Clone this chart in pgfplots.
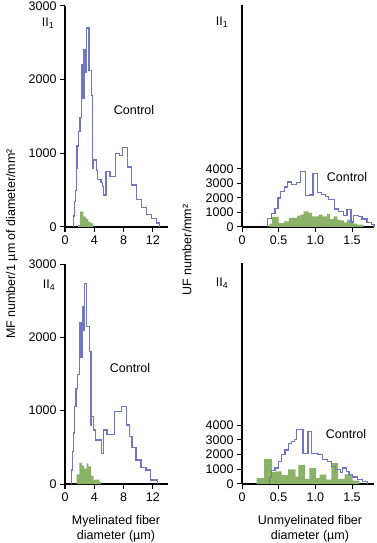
\documentclass[border=0pt]{standalone}
\usepackage{fontspec}
\setmainfont{Liberation Sans}
\usepackage{pgfplots}
\pgfplotsset{compat=1.18}
\definecolor{ublue}{RGB}{112,118,196}
\definecolor{ugreen}{RGB}{138,178,104}
\pgfplotsset{
  hist/.style={
    scale only axis,
    axis lines=left,
    axis line style={-, line width=1.1pt, black},
    tick align=outside,
    major tick length=5pt,
    tick style={line width=1pt, black},
    ticklabel style={font=\fontsize{12.5}{14}\selectfont},
    /pgf/number format/assume math mode=true,
    /pgf/number format/1000 sep={},
    scaled ticks=false,
    clip=false,
    anchor=south west,
  },
  bl/.style={ublue, line width=1.2pt, const plot mark left, mark=none},
  gr/.style={fill=ugreen, draw=none, const plot mark left, mark=none},
}
\begin{document}
\begin{tikzpicture}[font=\fontsize{12.5}{14.5}\selectfont]
\path[use as bounding box] (0,0) rectangle (376pt,543pt);

% ---------- top left ----------
\begin{axis}[hist, at={(65pt,316pt)}, width=102.6pt, height=221pt,
  xmin=0, xmax=14, ymin=0, ymax=3000,
  xtick={0,4,8,12}, ytick={0,1000,2000,3000}]
\addplot[gr] coordinates {(1.8,0)(1.8,30)(2.05,210)(2.5,140)(2.86,110)(3.18,70)(3.5,50)(3.86,0)} \closedcycle;
\addplot[bl] coordinates {(1.2,0)(1.2,150)(1.35,350)(1.45,500)(1.55,800)(1.65,1100)(1.8,1300)(2.05,1490)
 (2.27,2200)(2.31,1750)(2.35,2200)(2.39,1750)(2.43,2200)(2.47,1750)(2.51,2200)(2.55,1750)
 (2.59,2410)(2.63,2100)(2.67,2410)(2.71,2100)(2.75,2410)(2.79,2100)(2.83,2410)(2.87,2100)(2.91,2410)
 (2.96,2700)(3.27,2120)(3.64,1790)(3.77,800)(3.85,910)(4.3,770)(4.45,640)(4.9,600)(5.1,550)(5.25,435)
 (5.6,750)(6.14,690)(6.9,1000)(7.45,975)(7.9,1080)(8.5,815)(9.1,570)(9.8,370)(10.45,260)(11.1,165)
 (11.8,110)(12.5,55)(12.9,0)};
\end{axis}

% ---------- bottom left ----------
\begin{axis}[hist, at={(65pt,59pt)}, width=102.6pt, height=220pt,
  xmin=0, xmax=14, ymin=0, ymax=3000,
  xtick={0,4,8,12}, ytick={0,1000,2000,3000}]
\addplot[gr] coordinates {(1.6,0)(1.6,130)(1.95,290)(2.3,250)(2.6,210)(2.95,280)(3.2,240)(3.55,110)(3.9,55)(4.2,60)(4.7,30)(4.9,0)} \closedcycle;
\addplot[bl] coordinates {(0.91,0)(0.91,190)(1.05,440)(1.2,695)(1.35,1055)(1.5,1300)(1.74,1490)
 (1.96,2200)(2.0,1730)(2.04,2200)(2.08,1730)(2.12,2200)(2.16,1730)(2.2,2200)(2.24,1730)(2.28,2200)(2.32,1730)(2.36,2200)
 (2.41,2420)(2.45,2100)(2.49,2420)(2.53,2100)(2.57,2420)(2.61,2100)
 (2.64,2730)(2.95,2146)(3.32,1805)(3.55,805)(3.62,918)(3.91,737)(4.14,600)(4.96,420)(5.28,737)(5.74,680)
 (6.7,986)(7.67,1055)(8.35,805)(8.75,645)(9.15,500)(9.7,327)(10.37,230)(11.05,190)(11.7,55)(12.6,0)};
\end{axis}

% ---------- top right ----------
\begin{axis}[hist, at={(242pt,316pt)}, width=132pt, height=222pt,
  xmin=0, xmax=1.8, ymin=0, ymax=15300,
  xtick={0,0.5,1.0,1.5}, xticklabels={0,0.5,1.0,1.5}, ytick={0,1000,2000,3000,4000}]
\addplot[gr] coordinates {(0.377,0)(0.377,230)(0.41,690)(0.5,275)(0.57,390)(0.64,620)(0.75,780)(0.795,850)(0.84,1080)
 (0.91,965)(0.955,735)(1.045,850)(1.1,735)(1.16,900)(1.2,550)(1.25,735)(1.3,505)(1.34,460)(1.39,320)(1.43,505)
 (1.48,320)(1.52,230)(1.57,160)(1.66,0)} \closedcycle;
\addplot[bl] coordinates {(0.35,0)(0.35,600)(0.40,950)(0.45,1250)(0.49,2000)(0.53,2450)(0.58,2750)(0.62,3100)(0.68,2950)
 (0.74,3050)(0.795,3850)(0.864,2150)(0.92,2200)(0.968,3700)(1.032,2350)(1.082,2230)(1.137,2115)(1.182,1885)
 (1.26,1240)(1.32,1080)(1.387,800)(1.432,1200)(1.487,350)(1.52,800)(1.59,700)(1.637,550)(1.705,320)(1.77,150)(1.8,0)};
\end{axis}

% ---------- bottom right ----------
\begin{axis}[hist, at={(242pt,59pt)}, width=132pt, height=221pt,
  xmin=0, xmax=1.8, ymin=0, ymax=15000,
  xtick={0,0.5,1.0,1.5}, xticklabels={0,0.5,1.0,1.5}, ytick={0,1000,2000,3000,4000}]
\addplot[gr] coordinates {(0.2,0)(0.2,400)(0.3,1700)(0.41,800)(0.46,850)(0.54,600)(0.6,600)(0.63,1000)(0.73,500)
 (0.77,1300)(0.86,350)(0.92,1080)(1.01,400)(1.06,630)(1.15,300)(1.22,1420)(1.31,350)(1.4,650)(1.51,230)(1.6,0)} \closedcycle;
\addplot[bl] coordinates {(0.38,0)(0.38,450)(0.405,920)(0.45,1080)(0.495,1530)(0.54,1980)(0.585,2310)(0.63,2760)
 (0.676,2880)(0.72,3000)(0.743,3700)(0.833,2090)(0.9,3550)(0.95,2090)(1.036,1980)(1.1,1640)(1.17,1530)
 (1.216,1190)(1.28,970)(1.34,790)(1.37,1080)(1.42,860)(1.46,630)(1.51,470)(1.58,290)(1.64,180)(1.71,0)};
\end{axis}

% ---------- labels ----------
\node at (48pt,520pt) {II\textsubscript{1}};
\node at (222pt,521pt) {II\textsubscript{1}};
\node at (49pt,258pt) {II\textsubscript{4}};
\node at (222pt,260pt) {II\textsubscript{4}};
\node at (134pt,433pt) {Control};
\node at (347pt,366pt) {Control};
\node at (130pt,175pt) {Control};
\node at (346pt,109pt) {Control};
\node[align=center] at (116pt,14pt) {Myelinated fiber\\diameter (µm)};
\node[align=center] at (310pt,14pt) {Unmyelinated fiber\\diameter (µm)};
\node[rotate=90] at (12pt,299pt) {MF number/1 µm of diameter/mm²};
\node[rotate=90] at (187pt,293pt) {UF number/mm²};
\end{tikzpicture}
\end{document}
